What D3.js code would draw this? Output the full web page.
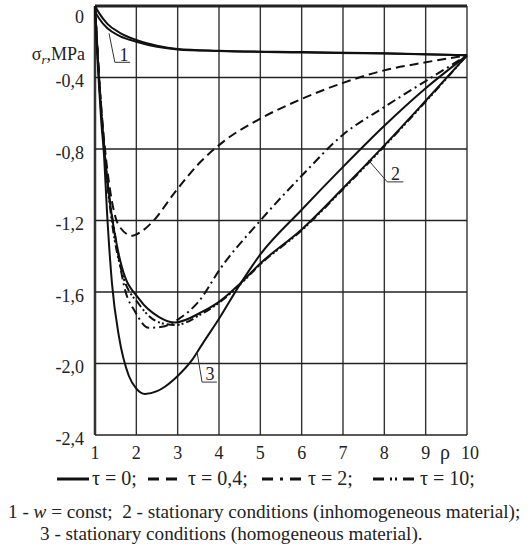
<!DOCTYPE html>
<html>
<head>
<meta charset="utf-8">
<script src="https://cdn.jsdelivr.net/npm/d3@7"></script>
<style>
  body { margin: 0; background: #fff; }
  text { font-family: "Liberation Serif", "DejaVu Serif", serif; fill: #222; }
</style>
</head>
<body>
<div id="chart"></div>
<script>
//data: [rho, sigma_r in MPa]
var curve1a = [[1,0],[1.1,-0.04],[1.3,-0.1],[1.6,-0.15],[2,-0.19],[2.5,-0.222],[3,-0.24],[4,-0.25],[6,-0.258],[8,-0.265],[10,-0.276]];
var curve1b = [[1,-0.03],[1.1,-0.07],[1.3,-0.125],[1.6,-0.168],[2,-0.2],[2.5,-0.228],[3,-0.243],[4,-0.252],[6,-0.26],[8,-0.266],[10,-0.276]];
var tau04 = [[1,0],[1.05,-0.2],[1.1,-0.4],[1.2,-0.7],[1.34,-0.99],[1.58,-1.23],[1.9,-1.285],[2.1,-1.265],[2.38,-1.21],[2.94,-1.04],[3.52,-0.88],[4.1,-0.76],[5,-0.63],[6,-0.52],[7,-0.43],[8,-0.36],[9,-0.315],[10,-0.276]];
var tau2 = [[1,0],[1.05,-0.2],[1.1,-0.4],[1.2,-0.72],[1.3,-0.98],[1.48,-1.27],[1.73,-1.59],[1.97,-1.71],[2.3,-1.8],[2.62,-1.795],[3.03,-1.75],[3.52,-1.65],[4.03,-1.47],[5,-1.2],[6,-0.95],[7,-0.72],[8,-0.565],[9,-0.42],[10,-0.276]];
var tau10 = [[1,0],[1.05,-0.21],[1.1,-0.41],[1.17,-0.66],[1.25,-0.88],[1.41,-1.21],[1.65,-1.49],[2.07,-1.67],[2.55,-1.77],[2.94,-1.785],[3.6,-1.72],[4.0,-1.66],[4.5,-1.56],[5,-1.445],[6,-1.255],[7,-1.025],[8,-0.785],[9,-0.535],[10,-0.276]];
var curve2 = [[1,0],[1.05,-0.22],[1.1,-0.42],[1.17,-0.65],[1.25,-0.86],[1.41,-1.18],[1.65,-1.46],[2.07,-1.64],[2.55,-1.74],[2.94,-1.77],[3.6,-1.71],[4.0,-1.655],[4.5,-1.555],[5,-1.44],[6,-1.25],[7,-1.02],[8,-0.78],[9,-0.53],[10,-0.276]];
var curve3 = [[1,0],[1.05,-0.25],[1.1,-0.46],[1.15,-0.64],[1.22,-0.84],[1.29,-1.15],[1.41,-1.55],[1.58,-1.85],[1.82,-2.07],[2,-2.14],[2.21,-2.17],[2.5,-2.155],[2.69,-2.13],[3,-2.07],[3.35,-1.98],[3.6,-1.89],[4,-1.75],[4.5,-1.56],[5,-1.39],[6,-1.14],[7,-0.9],[8,-0.67],[9,-0.46],[10,-0.276]];

var xTicks = [1,2,3,4,5,6,7,8,9,10];
var yTicks = [0,-0.4,-0.8,-1.2,-1.6,-2.0,-2.4];
var yTickLabels = ["0","-0,4","-0,8","-1,2","-1,6","-2,0","-2,4"];
var legendLabels = ["τ = 0;", "τ = 0,4;", "τ = 2;", "τ = 10;"];

//svg size
var svgWidth = 530;
var svgHeight = 557;

var svg = d3.select("#chart")
    .append("svg")
    .attr("width", svgWidth)
    .attr("height", svgHeight);

var x = d3.scaleLinear().domain([1, 10]).range([95, 467]);
var y = d3.scaleLinear().domain([-2.4, 0]).range([435, 6]);

//grid
svg.append("g").selectAll("line")
    .data(xTicks)
    .enter()
    .append("line")
    .attr("x1", d => x(d)).attr("x2", d => x(d))
    .attr("y1", y(0)).attr("y2", y(-2.4))
    .attr("stroke", "#333")
    .attr("stroke-width", d => d == 1 ? 2.5 : 1.4);

svg.append("g").selectAll("line")
    .data(yTicks)
    .enter()
    .append("line")
    .attr("x1", x(1)).attr("x2", x(10))
    .attr("y1", d => y(d)).attr("y2", d => y(d))
    .attr("stroke", "#222")
    .attr("stroke-width", d => d == 0 ? 3 : 1.4);

//tick labels
svg.append("g").selectAll("text")
    .data(yTicks)
    .enter()
    .append("text")
    .attr("x", 84)
    .attr("y", d => y(d))
    .attr("dy", d => d == 0 ? "0.95em" : "0.55em")
    .attr("text-anchor", "end")
    .style("font-size", "18px")
    .text((d, i) => yTickLabels[i]);

svg.append("g").selectAll("text")
    .data(xTicks)
    .enter()
    .append("text")
    .attr("x", d => x(d) + (d == 10 ? 3 : 0))
    .attr("y", 459)
    .attr("text-anchor", "middle")
    .style("font-size", "18px")
    .text(d => d);

svg.append("text")
    .attr("x", x(9.47))
    .attr("y", 459)
    .attr("text-anchor", "middle")
    .style("font-size", "20px")
    .text("ρ");

//y axis title
var yTitle = svg.append("text")
    .attr("x", 85)
    .attr("y", 60)
    .attr("text-anchor", "end")
    .style("font-size", "18px");
yTitle.append("tspan").text("σ");
yTitle.append("tspan").attr("dy", 4).style("font-style", "italic").style("font-size", "13px").text("r");
yTitle.append("tspan").attr("dy", -4).text(",MPa");

//curves
var line = d3.line()
    .x(d => x(d[0]))
    .y(d => y(d[1]))
    .curve(d3.curveMonotoneX);

var series = [
    {data: curve1a, dash: null},
    {data: curve1b, dash: null},
    {data: tau04, dash: "9,5"},
    {data: tau2, dash: "9,4,2,4"},
    {data: curve3, dash: null},
    {data: curve2, dash: null},
    {data: tau10, dash: "8,3,2,2,2,3"}
];

svg.append("g").selectAll("path")
    .data(series)
    .enter()
    .append("path")
    .attr("d", d => line(d.data))
    .attr("fill", "none")
    .attr("stroke", "#111")
    .attr("stroke-width", 2)
    .attr("stroke-dasharray", d => d.dash);

//curve labels with leader lines
var labels = [
    {t: "1", pts: [[1.34,-0.153],[1.48,-0.315],[1.85,-0.315]], tx: 1.7, ty: -0.305},
    {t: "2", pts: [[7.61,-0.861],[8.07,-0.984],[8.46,-0.984]], tx: 8.27, ty: -0.975},
    {t: "3", pts: [[3.47,-1.937],[3.59,-2.104],[3.95,-2.104]], tx: 3.78, ty: -2.095}
];
var leader = d3.line().x(d => x(d[0])).y(d => y(d[1]));
labels.forEach(function(l) {
    svg.append("path")
        .attr("d", leader(l.pts))
        .attr("fill", "none")
        .attr("stroke", "#333")
        .attr("stroke-width", 1);
    svg.append("text")
        .attr("x", x(l.tx))
        .attr("y", y(l.ty))
        .attr("text-anchor", "middle")
        .style("font-size", "18px")
        .text(l.t);
});

//legend
var legendX = [[57, 89, 92], [148, 177, 188], [262, 303, 308], [373, 418, 420]];
var legendDash = [null, "11,7", "11,7,3,7", "11,6,2,3,2,6"];
legendLabels.forEach(function(lab, i) {
    svg.append("line")
        .attr("x1", legendX[i][0]).attr("x2", legendX[i][1])
        .attr("y1", 479).attr("y2", 479)
        .attr("stroke", "#111")
        .attr("stroke-width", 3)
        .attr("stroke-dasharray", legendDash[i]);
    svg.append("text")
        .attr("x", legendX[i][2])
        .attr("y", 485)
        .style("font-size", "20px")
        .text(lab);
});

//caption
var cap1 = svg.append("text")
    .attr("x", 8)
    .attr("y", 518)
    .attr("xml:space", "preserve")
    .style("font-size", "19.2px");
cap1.append("tspan").text("1 - ");
cap1.append("tspan").style("font-style", "italic").text("w");
cap1.append("tspan").text(" = const;  2 - stationary conditions (inhomogeneous material);");

svg.append("text")
    .attr("x", 40)
    .attr("y", 540)
    .style("font-size", "19.2px")
    .text("3 - stationary conditions (homogeneous material).");
</script>
</body>
</html>
